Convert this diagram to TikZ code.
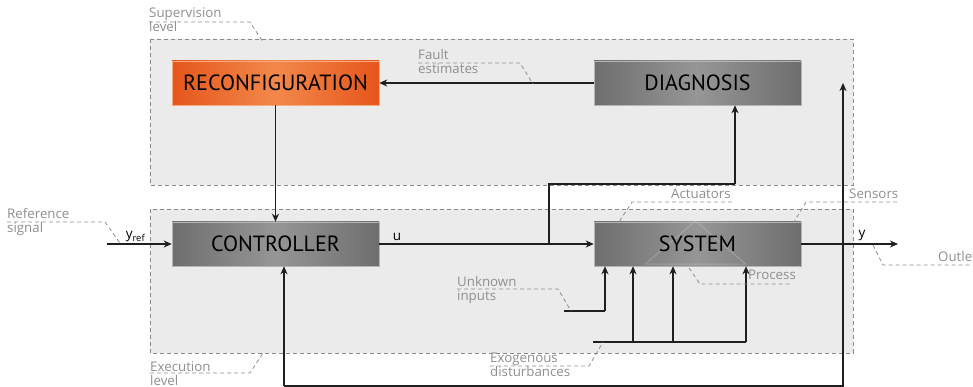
\documentclass[tikz,border=0pt]{standalone}
\usepackage{fontspec}
\setmainfont{Open Sans}
\newfontfamily\blockfont{PT Sans}
\usetikzlibrary{positioning, arrows.meta, shapes}
\definecolor{lvlfill}{HTML}{EBEBEB}
\definecolor{lvlline}{HTML}{8A8A8A}
\definecolor{notegray}{HTML}{8E8E8E}
\definecolor{blkdark}{HTML}{6E6E6E}
\definecolor{blklight}{HTML}{969696}
\definecolor{orgdark}{HTML}{E5561B}
\definecolor{orglight}{HTML}{F3884A}

\begin{document}
\begin{tikzpicture}[x=1pt,y=-1pt,
  >={Stealth[length=8pt,width=7pt,inset=2.5pt]},
  block/.style={rectangle, minimum width=207pt, minimum height=44pt, inner sep=0pt,
    left color=blkdark, right color=blkdark, middle color=blklight,
    draw=blklight!70!white, line width=0.5pt,
    font=\blockfont\fontsize{22}{22}\selectfont, text=black},
  orgblock/.style={block, left color=orgdark, right color=orgdark, middle color=orglight,
    draw=orglight!70!white},
  level/.style={draw=lvlline, fill=lvlfill, dash pattern=on 4pt off 3pt, line width=0.8pt},
  note/.style={font=\fontsize{13.3}{14}\selectfont, text=notegray, align=left,
    inner sep=0pt, anchor=base west},
  lead/.style={draw=notegray, dash pattern=on 4pt off 3pt, line width=0.8pt},
  sig/.style={line width=1.4pt, draw=black!88},
  sigtext/.style={font=\fontsize{13.5}{13.5}\selectfont, inner sep=0pt}]

\useasboundingbox (0,0) rectangle (973,387);

% the two levels
\draw[level] (150,39) rectangle (853,185);
\draw[level] (150,209) rectangle (853,353);

% blocks
\node[orgblock](reconf) at (275.5,83) {RECONFIGURATION};
\node[block](diag) at (697.5,83) {DIAGNOSIS};
\node[block](ctrl) at (275.5,244) {CONTROLLER};
\node[block, path picture={
    \draw[white, opacity=0.2, line width=1pt]
      ([shift={(-52,20)}]path picture bounding box.center)
      -- ([shift={(-2,-23)}]path picture bounding box.center)
      -- ([shift={(48,20)}]path picture bounding box.center) -- cycle;}]
  (sys) at (697.5,244) {SYSTEM};

% free ends of the signals
\coordinate (yin) at (107,244);
\coordinate (yout) at (898,244);
\coordinate (br) at (549,244);
\coordinate (brk) at (735,184);
\coordinate (tap) at (843,244);
\coordinate (fb) at (843,386);
\coordinate (fbc) at (284,386);
\coordinate (uin) at (564,311);
\coordinate (u1) at (605,311);
\coordinate (din) at (593,342);
\coordinate (d1) at (633,342);
\coordinate (d2) at (673,342);
\coordinate (d3) at (746,342);

\draw[sig]	(diag) edge[->] (reconf)
		(reconf) edge[->] (ctrl)
		(yin) edge[->] (ctrl)
		(ctrl) edge[->] (sys)
		(sys) edge[->] (yout)
		(br) |- (brk) edge[->] (brk |- diag.south)
		(tap) edge[->] (tap |- diag.east)
		(tap) -- (fb) -- (fbc) edge[->] (fbc |- ctrl.south)
		(uin) -- (u1) edge[->] (u1 |- sys.south)
		(din) -- (d3)
		;
\foreach \d in {d1,d2,d3}
  \draw[sig,->] (\d) -- (\d |- sys.south);

% signal names
\node[sigtext](yreflbl) at (135.5,237) {y\textsubscript{ref}};
\node[sigtext](ulbl) at (397,237) {u};
\node[sigtext](ylbl) at (862,236) {y};

% annotations (base = last line)
\node[note](supv) at (149,31.5) {Supervision\\level};
\draw[lead] (149,22) -- (250,22) -- (263,42);
\node[note](fault) at (418,73.5) {Fault\\estimates};
\draw[lead] (418,63) -- (520,63) -- (533,84);
\node[note](refsig) at (7,232.5) {Reference\\signal};
\draw[lead] (7,222) -- (105,222) -- (120,243);
\node[note](execl) at (150,385) {Execution\\level};
\draw[lead] (150,373) -- (250,373) -- (263,353);
\node[note](act) at (671,198.5) {Actuators};
\draw[lead] (732,202) -- (632,202) -- (619,222);
\node[note](sens) at (849,198.5) {Sensors};
\draw[lead] (897,202) -- (806,202) -- (794,222);
\node[note](outl) at (938,261.5) {Outlet};
\draw[lead] (873,245) -- (883,265) -- (973,265);
\node[note](proc) at (748,279.5) {Process};
\draw[lead] (689,268) -- (700,284) -- (791,284);
\node[note](unk) at (457,300) {Unknown\\inputs};
\draw[lead] (457,289) -- (558,289) -- (571,311);
\node[note](exo) at (490,376) {Exogenous\\disturbances};
\draw[lead] (490,366) -- (589,366) -- (603,342);

\end{tikzpicture}
\end{document}
